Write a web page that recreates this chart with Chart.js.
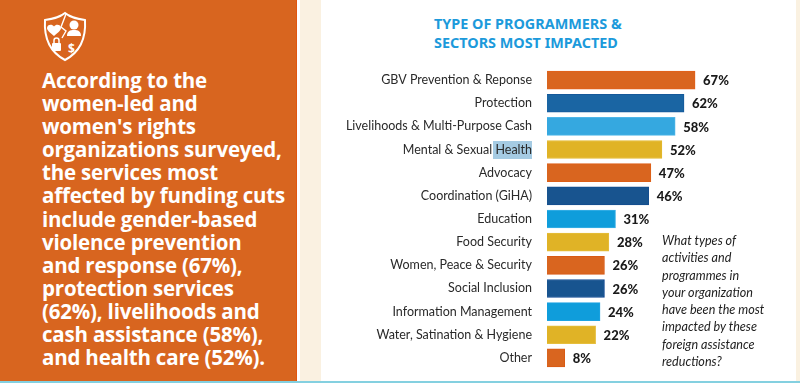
<!DOCTYPE html>
<html><head><meta charset="utf-8">
<script src="https://cdn.jsdelivr.net/npm/chart.js@4"></script>
<style>
html,body{margin:0;padding:0;background:#fff}
#stage{position:relative;width:800px;height:383px;overflow:hidden;background:#fff;font-family:"Lato",sans-serif}
.abs{position:absolute}
#panel{left:0;top:0;width:296px;height:381px;background:#D8651F;border-right:1px solid #E2550F}
#cream1{left:300px;top:0;width:21px;height:381px;background:#FAF1E1}
#cream2{left:796px;top:0;width:4px;height:381px;background:#FAF1E1}
#rule{left:0;top:381px;width:800px;height:2px;background:#84D0E0}
#lead{left:42px;top:69px;color:#fff;font-weight:700;font-size:20.5px;line-height:23.1px;white-space:nowrap;font-family:"Open Sans",sans-serif;letter-spacing:-.2px}
#title{left:434px;top:14px;color:#1C9ADB;font-weight:700;font-size:14.4px;line-height:19px;white-space:nowrap;font-family:"Noto Sans",sans-serif}
#note{left:662px;top:232px;color:#222;font-style:italic;font-size:12.6px;line-height:17.3px;white-space:nowrap;font-family:"Lato",sans-serif}
#hl{left:493px;top:141px;width:39px;height:18px;background:#A5CBE3}
canvas{position:absolute;left:0;top:0}
</style></head><body>
<div id="stage">
<div class="abs" id="panel"></div><div class="abs" id="cream1"></div><div class="abs" id="cream2"></div><div class="abs" id="rule"></div>
<svg class="abs" style="left:42px;top:10px" width="48" height="54" viewBox="0 0 48 54">
<path d="M23 3C17 8 10 9 3 10C2 26 6 41 23 50C40 41 44 26 43 10C36 9 29 8 23 3Z" fill="none" stroke="#fff" stroke-width="2"/>
<path d="M24 4L19 17L24 21L20 28" fill="none" stroke="#fff" stroke-width="1.400"/>
<path d="M12 26C7 22 5 20 5 18C5 14.500 10 13.500 12 16.500C14 13.500 19 14.500 19 18C19 20 17 22 12 26Z" fill="#fff"/>
<circle cx="32" cy="15" r="4.500" fill="#fff"/><path d="M25 26C25 21 28 20 32 20C36 20 39 21 39 26Z" fill="#fff"/>
<rect x="10" y="33" width="9" height="8" rx="1" fill="#fff"/><path d="M12 33V30.500A2.500 2.500 0 0 1 17 30.500V33" fill="none" stroke="#fff" stroke-width="1.500"/>
<text x="26" y="43" fill="#fff" font-size="12" font-weight="700" font-family="Noto Sans">$</text>
</svg>
<div class="abs" id="lead">According to the<br>women-led and<br>women's rights<br>organizations surveyed,<br>the services most<br>affected by funding cuts<br>include gender-based<br>violence prevention<br>and response (67%),<br>protection services<br>(62%), livelihoods and<br>cash assistance (58%),<br>and health care (52%).</div>
<div class="abs" id="title">TYPE OF PROGRAMMERS &amp;<br>SECTORS MOST IMPACTED</div>
<div class="abs" id="hl"></div>
<canvas id="c" width="800" height="392"></canvas>
<div class="abs" id="note">What types of<br>activities and<br>programmes in<br>your organization<br>have been the most<br>impacted by these<br>foreign assistance<br>reductions?</div>
</div>
<script>
const categories=["GBV Prevention & Reponse","Protection","Livelihoods & Multi-Purpose Cash","Mental & Sexual Health","Advocacy","Coordination (GiHA)","Education","Food Security","Women, Peace & Security","Social Inclusion","Information Management","Water, Satination & Hygiene","Other"];
const values=[67,62,58,52,47,46,31,28,26,26,24,22,8];
const barColors=["#D9651F","#1A65A3","#35A8E0","#E0B326","#D9651F","#18548F","#0F9DDB","#E0B326","#D9651F","#18548F","#0F9DDB","#E0B326","#D9651F"];
const edgeColors=["#E2601A","#15599A","#4FB6E8","#E3B92E","#DD5F17","#134C8E","#3BB0E6","#E6BE3C","#D95A14","#0F4793","#1FA4E2","#E6BE3C","#D95A14"];
const valueLabels={id:"valueLabels",afterDatasetsDraw(chart){
  const ctx=chart.ctx;ctx.save();ctx.font='900 13px "Lato"';ctx.fillStyle="#1a1a1a";ctx.textAlign="left";ctx.textBaseline="middle";
  chart.getDatasetMeta(0).data.forEach((b,i)=>ctx.fillText(values[i]+"%",b.x+8,b.y+1));
  ctx.restore();
}};
new Chart(document.getElementById("c"),{
  type:"bar",
  data:{labels:categories,datasets:[{data:values,backgroundColor:barColors,borderColor:edgeColors,borderWidth:1,barThickness:18}]},
  options:{indexAxis:"y",responsive:false,animation:false,
    layout:{autoPadding:false,padding:{left:321,right:32,top:68.5,bottom:4}},
    plugins:{legend:{display:false},tooltip:{enabled:false}},
    scales:{
      x:{display:false,min:0,max:100},
      y:{afterFit(a){a.width=226},grid:{display:false,drawTicks:false},border:{display:false},
         ticks:{color:"#2a2a2a",padding:15,autoSkip:false,font:{family:"Lato",size:12.5}}}
    }},
  plugins:[valueLabels]
});
</script>
</body></html>
